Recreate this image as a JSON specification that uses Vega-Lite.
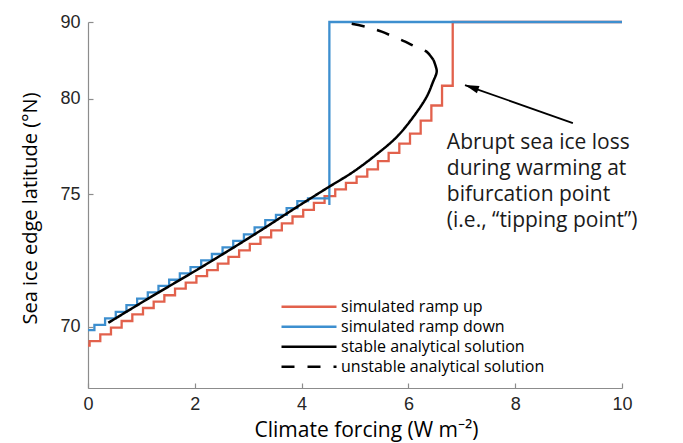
{
  "$schema": "https://vega.github.io/schema/vega-lite/v6.json",
  "width": 534,
  "height": 366,
  "autosize": {"type": "none"},
  "padding": {"left": 88, "top": 22, "right": 61, "bottom": 55},
  "background": "white",
  "config": {
    "view": {"stroke": null},
    "font": "Open Sans",
    "axis": {
      "grid": false,
      "domainColor": "#8c8c8c",
      "domainWidth": 1.2,
      "tickColor": "#8c8c8c",
      "tickWidth": 1.2,
      "tickSize": -5,
      "labelFont": "Liberation Sans",
      "labelFontSize": 18,
      "labelColor": "#262626",
      "labelFlush": false,
      "titleFont": "Open Sans",
      "titleFontWeight": "normal",
      "titleColor": "#000000"
    }
  },
  "datasets": {
    "curves": [
      {"series": "simulated ramp up", "F": 0, "lat": 69.38},
      {"series": "simulated ramp up", "F": 0.03, "lat": 69.53},
      {"series": "simulated ramp up", "F": 0.23, "lat": 69.75},
      {"series": "simulated ramp up", "F": 0.43, "lat": 69.97},
      {"series": "simulated ramp up", "F": 0.63, "lat": 70.19},
      {"series": "simulated ramp up", "F": 0.83, "lat": 70.41},
      {"series": "simulated ramp up", "F": 1.03, "lat": 70.63},
      {"series": "simulated ramp up", "F": 1.23, "lat": 70.85},
      {"series": "simulated ramp up", "F": 1.43, "lat": 71.07},
      {"series": "simulated ramp up", "F": 1.63, "lat": 71.30},
      {"series": "simulated ramp up", "F": 1.83, "lat": 71.52},
      {"series": "simulated ramp up", "F": 2.03, "lat": 71.75},
      {"series": "simulated ramp up", "F": 2.23, "lat": 71.97},
      {"series": "simulated ramp up", "F": 2.43, "lat": 72.21},
      {"series": "simulated ramp up", "F": 2.63, "lat": 72.46},
      {"series": "simulated ramp up", "F": 2.83, "lat": 72.71},
      {"series": "simulated ramp up", "F": 3.03, "lat": 72.96},
      {"series": "simulated ramp up", "F": 3.23, "lat": 73.21},
      {"series": "simulated ramp up", "F": 3.43, "lat": 73.49},
      {"series": "simulated ramp up", "F": 3.63, "lat": 73.77},
      {"series": "simulated ramp up", "F": 3.83, "lat": 74.05},
      {"series": "simulated ramp up", "F": 4.03, "lat": 74.33},
      {"series": "simulated ramp up", "F": 4.23, "lat": 74.62},
      {"series": "simulated ramp up", "F": 4.43, "lat": 74.91},
      {"series": "simulated ramp up", "F": 4.63, "lat": 75.21},
      {"series": "simulated ramp up", "F": 4.83, "lat": 75.50},
      {"series": "simulated ramp up", "F": 5.03, "lat": 75.79},
      {"series": "simulated ramp up", "F": 5.23, "lat": 76.13},
      {"series": "simulated ramp up", "F": 5.43, "lat": 76.52},
      {"series": "simulated ramp up", "F": 5.63, "lat": 76.93},
      {"series": "simulated ramp up", "F": 5.83, "lat": 77.40},
      {"series": "simulated ramp up", "F": 6.03, "lat": 77.93},
      {"series": "simulated ramp up", "F": 6.23, "lat": 78.66},
      {"series": "simulated ramp up", "F": 6.43, "lat": 79.57},
      {"series": "simulated ramp up", "F": 6.63, "lat": 80.89},
      {"series": "simulated ramp up", "F": 6.83, "lat": 90},
      {"series": "simulated ramp up", "F": 10, "lat": 90},

      {"series": "simulated ramp down", "F": 0, "lat": 69.89},
      {"series": "simulated ramp down", "F": 0.12, "lat": 70.06},
      {"series": "simulated ramp down", "F": 0.32, "lat": 70.28},
      {"series": "simulated ramp down", "F": 0.52, "lat": 70.50},
      {"series": "simulated ramp down", "F": 0.72, "lat": 70.73},
      {"series": "simulated ramp down", "F": 0.92, "lat": 70.95},
      {"series": "simulated ramp down", "F": 1.12, "lat": 71.17},
      {"series": "simulated ramp down", "F": 1.32, "lat": 71.40},
      {"series": "simulated ramp down", "F": 1.52, "lat": 71.62},
      {"series": "simulated ramp down", "F": 1.72, "lat": 71.85},
      {"series": "simulated ramp down", "F": 1.92, "lat": 72.08},
      {"series": "simulated ramp down", "F": 2.12, "lat": 72.33},
      {"series": "simulated ramp down", "F": 2.32, "lat": 72.57},
      {"series": "simulated ramp down", "F": 2.52, "lat": 72.82},
      {"series": "simulated ramp down", "F": 2.72, "lat": 73.07},
      {"series": "simulated ramp down", "F": 2.92, "lat": 73.33},
      {"series": "simulated ramp down", "F": 3.12, "lat": 73.61},
      {"series": "simulated ramp down", "F": 3.32, "lat": 73.90},
      {"series": "simulated ramp down", "F": 3.52, "lat": 74.12},
      {"series": "simulated ramp down", "F": 3.72, "lat": 74.40},
      {"series": "simulated ramp down", "F": 3.92, "lat": 74.70},
      {"series": "simulated ramp down", "F": 4.12, "lat": 74.82},
      {"series": "simulated ramp down", "F": 4.32, "lat": 74.82},
      {"series": "simulated ramp down", "F": 4.52, "lat": 74.53},
      {"series": "simulated ramp down", "F": 4.52, "lat": 90},
      {"series": "simulated ramp down", "F": 10, "lat": 90},

      {"series": "stable analytical solution", "F": 0.38, "lat": 70.13},
      {"series": "stable analytical solution", "F": 1.16, "lat": 70.99},
      {"series": "stable analytical solution", "F": 2.10, "lat": 72.05},
      {"series": "stable analytical solution", "F": 3.03, "lat": 73.21},
      {"series": "stable analytical solution", "F": 3.97, "lat": 74.53},
      {"series": "stable analytical solution", "F": 4.49, "lat": 75.29},
      {"series": "stable analytical solution", "F": 4.96, "lat": 76.00},
      {"series": "stable analytical solution", "F": 5.41, "lat": 76.87},
      {"series": "stable analytical solution", "F": 5.78, "lat": 77.75},
      {"series": "stable analytical solution", "F": 6.09, "lat": 78.87},
      {"series": "stable analytical solution", "F": 6.34, "lat": 80.12},
      {"series": "stable analytical solution", "F": 6.46, "lat": 81.16},
      {"series": "stable analytical solution", "F": 6.53, "lat": 81.96},
      {"series": "stable analytical solution", "F": 6.51, "lat": 82.43},
      {"series": "stable analytical solution", "F": 6.47, "lat": 82.97},

      {"series": "unstable analytical solution", "F": 6.47, "lat": 82.97},
      {"series": "unstable analytical solution", "F": 6.40, "lat": 83.45},
      {"series": "unstable analytical solution", "F": 6.34, "lat": 83.79},
      {"series": "unstable analytical solution", "F": 6.12, "lat": 84.36},
      {"series": "unstable analytical solution", "F": 5.94, "lat": 84.94},
      {"series": "unstable analytical solution", "F": 5.75, "lat": 85.54},
      {"series": "unstable analytical solution", "F": 5.50, "lat": 86.45},
      {"series": "unstable analytical solution", "F": 5.31, "lat": 87.14},
      {"series": "unstable analytical solution", "F": 4.96, "lat": 88.39},
      {"series": "unstable analytical solution", "F": 4.78, "lat": 89.05},
      {"series": "unstable analytical solution", "F": 4.70, "lat": 90}
    ],
    "note": [
      {"F": 6.72, "lat": 78.0, "text": "Abrupt sea ice loss\nduring warming at\nbifurcation point\n(i.e., “tipping point”)"}
    ],
    "arrow": [
      {"F": 9.08, "lat": 78.52, "F2": 7.06, "lat2": 80.94}
    ]
  },
  "layer": [
    {
      "data": {"name": "curves"},
      "transform": [
        {"filter": "datum.series == 'simulated ramp up'"},
        {"calculate": "sin(datum.lat * PI / 180)", "as": "s"}
      ],
      "mark": {"type": "line", "interpolate": "step-after", "strokeWidth": 2.3},
      "encoding": {
        "x": {
          "field": "F", "type": "quantitative",
          "scale": {"domain": [0, 10], "nice": false, "zero": false},
          "axis": {
            "values": [0, 2, 4, 6, 8, 10],
            "title": "Climate forcing (W m⁻²)",
            "titleFontSize": 21,
            "titleX": 278,
            "titleY": 42,
            "titleBaseline": "middle",
            "labelPadding": 12
          }
        },
        "y": {
          "field": "s", "type": "quantitative",
          "scale": {"domain": [0.92756, 1], "nice": false, "zero": false},
          "axis": {
            "values": [0.9396926, 0.9659258, 0.9848078, 1],
            "labelExpr": "format(asin(datum.value) * 180 / PI, '.0f')",
            "title": "Sea ice edge latitude (°N)",
            "titleFontSize": 20,
            "titleX": -58,
            "titleY": 186,
            "titleAlign": "center",
            "titleBaseline": "middle",
            "labelPadding": 13
          }
        },
        "color": {
          "field": "series", "type": "nominal",
          "scale": {
            "domain": ["simulated ramp up", "simulated ramp down", "stable analytical solution", "unstable analytical solution"],
            "range": ["#E2614C", "#3D8FCF", "#000000", "#000000"]
          },
          "legend": {
            "title": null,
            "orient": "none",
            "legendX": 192,
            "legendY": 275,
            "symbolType": "stroke",
            "symbolSize": 3025,
            "symbolStrokeWidth": 2.5,
            "clipHeight": 19.7,
            "rowPadding": 0,
            "padding": 0,
            "labelFont": "Open Sans",
            "labelFontSize": 16,
            "labelOffset": 3,
            "labelColor": "#000000",
            "labelLimit": 400
          }
        },
        "strokeDash": {
          "field": "series", "type": "nominal",
          "scale": {
            "domain": ["simulated ramp up", "simulated ramp down", "stable analytical solution", "unstable analytical solution"],
            "range": [[1, 0], [1, 0], [1, 0], [13, 13]]
          },
          "legend": {
            "title": null,
            "orient": "none",
            "legendX": 192,
            "legendY": 275,
            "symbolType": "stroke",
            "symbolSize": 3025,
            "symbolStrokeWidth": 2.5,
            "clipHeight": 19.7,
            "rowPadding": 0,
            "padding": 0,
            "labelFont": "Open Sans",
            "labelFontSize": 16,
            "labelOffset": 3,
            "labelColor": "#000000",
            "labelLimit": 400
          }
        },
        "order": {"value": null}
      }
    },
    {
      "data": {"name": "curves"},
      "transform": [
        {"filter": "datum.series == 'simulated ramp down'"},
        {"calculate": "sin(datum.lat * PI / 180)", "as": "s"}
      ],
      "mark": {"type": "line", "interpolate": "step-after", "strokeWidth": 2.3},
      "encoding": {
        "x": {"field": "F", "type": "quantitative"},
        "y": {"field": "s", "type": "quantitative"},
        "color": {"field": "series", "type": "nominal"},
        "strokeDash": {"field": "series", "type": "nominal"},
        "order": {"value": null}
      }
    },
    {
      "data": {"name": "curves"},
      "transform": [
        {"filter": "datum.series == 'stable analytical solution'"},
        {"calculate": "sin(datum.lat * PI / 180)", "as": "s"}
      ],
      "mark": {"type": "line", "interpolate": "catmull-rom", "strokeWidth": 2.5},
      "encoding": {
        "x": {"field": "F", "type": "quantitative"},
        "y": {"field": "s", "type": "quantitative"},
        "color": {"field": "series", "type": "nominal"},
        "strokeDash": {"field": "series", "type": "nominal"},
        "order": {"value": null}
      }
    },
    {
      "data": {"name": "curves"},
      "transform": [
        {"filter": "datum.series == 'unstable analytical solution'"},
        {"calculate": "sin(datum.lat * PI / 180)", "as": "s"}
      ],
      "mark": {"type": "line", "interpolate": "catmull-rom", "strokeWidth": 2.5},
      "encoding": {
        "x": {"field": "F", "type": "quantitative"},
        "y": {"field": "s", "type": "quantitative"},
        "color": {"field": "series", "type": "nominal"},
        "strokeDash": {"field": "series", "type": "nominal"},
        "order": {"value": null}
      }
    },
    {
      "data": {"name": "arrow"},
      "transform": [
        {"calculate": "sin(datum.lat * PI / 180)", "as": "s"},
        {"calculate": "sin(datum.lat2 * PI / 180)", "as": "s2"}
      ],
      "mark": {"type": "rule", "color": "#000000", "strokeWidth": 1.8},
      "encoding": {
        "x": {"field": "F", "type": "quantitative"},
        "y": {"field": "s", "type": "quantitative"},
        "x2": {"field": "F2"},
        "y2": {"field": "s2"}
      }
    },
    {
      "data": {"name": "arrow"},
      "transform": [
        {"calculate": "sin(datum.lat2 * PI / 180)", "as": "s2"}
      ],
      "mark": {"type": "point", "shape": "M0,0L0.55,2L-0.55,2Z", "size": 196, "angle": 289.4, "filled": true, "color": "#000000", "opacity": 1, "strokeWidth": 0},
      "encoding": {
        "x": {"field": "F2", "type": "quantitative"},
        "y": {"field": "s2", "type": "quantitative"}
      }
    },
    {
      "data": {"name": "note"},
      "transform": [
        {"calculate": "sin(datum.lat * PI / 180)", "as": "s"}
      ],
      "mark": {"type": "text", "align": "left", "baseline": "top", "lineBreak": "\n", "lineHeight": 26, "font": "Open Sans", "fontSize": 21, "color": "#1a1a1a"},
      "encoding": {
        "x": {"field": "F", "type": "quantitative"},
        "y": {"field": "s", "type": "quantitative"},
        "text": {"field": "text"}
      }
    }
  ]
}
